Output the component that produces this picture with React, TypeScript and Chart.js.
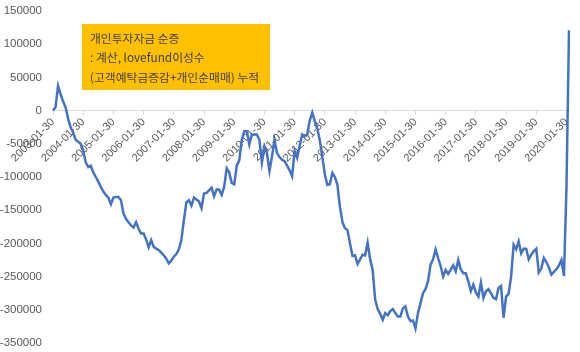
import React, { useEffect, useRef } from "react";
import { Chart, registerables } from "chart.js";

Chart.register(...registerables);

// Monthly cumulative values (one array per year, Jan..Dec)
const years = [2003, 2004, 2005, 2006, 2007, 2008, 2009, 2010, 2011, 2012, 2013, 2014, 2015, 2016, 2017, 2018, 2019, 2020];
const v2003 = [0, 5000, 37000, 25000, 14000, 5000, -12000, -25000, -33000, -44000, -47000, -50000];
const v2004 = [-60000, -78000, -85000, -83000, -93000, -100000, -107000, -115000, -122000, -127000, -131000, -141000];
const v2005 = [-131000, -130000, -130000, -135000, -155000, -163000, -168000, -173000, -176000, -168000, -178000, -185000];
const v2006 = [-185000, -194000, -206000, -195000, -205000, -208000, -210000, -214000, -218000, -223000, -230000, -226000];
const v2007 = [-220000, -216000, -209000, -195000, -165000, -138000, -135000, -143000, -131000, -134000, -137000, -147000];
const v2008 = [-125000, -124000, -120000, -116000, -129000, -119000, -119000, -127000, -115000, -87000, -93000, -109000];
const v2009 = [-111000, -83000, -75000, -44000, -31000, -31000, -51000, -36000, -36000, -36000, -44000, -78000];
const v2010 = [-54000, -64000, -91000, -69000, -44000, -64000, -70000, -74000, -76000, -83000, -90000, -99000];
const v2011 = [-61000, -71000, -53000, -36000, -39000, -36000, -15000, -3000, -16000, -27000, -45000, -70000];
const v2012 = [-96000, -112000, -111000, -94000, -100000, -112000, -145000, -168000, -177000, -180000, -200000, -219000];
const v2013 = [-218000, -231000, -224000, -217000, -218000, -199000, -224000, -240000, -285000, -299000, -306000, -315000];
const v2014 = [-305000, -308000, -302000, -299000, -305000, -310000, -310000, -298000, -295000, -310000, -317000, -316000];
const v2015 = [-328000, -305000, -290000, -275000, -269000, -257000, -232000, -224000, -209000, -222000, -234000, -250000];
const v2016 = [-240000, -246000, -240000, -233000, -242000, -225000, -239000, -245000, -245000, -257000, -272000, -262000];
const v2017 = [-274000, -280000, -259000, -282000, -272000, -269000, -275000, -282000, -284000, -267000, -264000, -312000];
const v2018 = [-280000, -276000, -250000, -202000, -209000, -197000, -215000, -208000, -208000, -224000, -217000, -212000];
const v2019 = [-208000, -244000, -238000, -222000, -228000, -236000, -247000, -243000, -239000, -233000, -225000, -249000];
const v2020 = [-115000, 121000];
const seriesByYear = [v2003, v2004, v2005, v2006, v2007, v2008, v2009, v2010, v2011, v2012, v2013, v2014, v2015, v2016, v2017, v2018, v2019, v2020];

const yMin = -350000;
const yMax = 150000;
const yStep = 50000;

const noteLines = ["개인투자자금 순증", ": 계산, lovefund이성수", "(고객예탁금증감+개인순매매) 누적"];

const labels: string[] = [];
const values: number[] = [];
years.forEach((y, k) => {
  seriesByYear[k].forEach((v, m) => {
    labels.push(`${y}-${String(m + 1).padStart(2, "0")}-30`);
    values.push(v);
  });
});

const notePlugin = {
  id: "noteBox",
  afterDraw(chart: any) {
    const ctx = chart.ctx;
    ctx.save();
    ctx.fillStyle = "#FFC000";
    ctx.fillRect(82, 24, 188, 66);
    ctx.fillStyle = "#404040";
    ctx.font = '11.8px "Noto Sans CJK KR", sans-serif';
    ctx.textBaseline = "middle";
    ctx.textAlign = "left";
    noteLines.forEach((t, k) => ctx.fillText(t, 90, 38.5 + k * 19.5));
    ctx.restore();
  },
};

export default function App() {
  const ref = useRef<HTMLCanvasElement>(null);
  useEffect(() => {
    if (!ref.current) return;
    const chart = new Chart(ref.current, {
      type: "line",
      data: {
        labels,
        datasets: [
          {
            data: values,
            borderColor: "#4472C4",
            borderWidth: 2.5,
            pointRadius: 0,
            tension: 0,
            fill: false,
          },
        ],
      },
      options: {
        responsive: false,
        animation: false,
        layout: { padding: { top: 11, bottom: 9, left: 0, right: 11 } },
        plugins: { legend: { display: false }, tooltip: { enabled: false } },
        scales: {
          x: {
            type: "category",
            position: { y: 0 } as any,
            offset: false,
            grid: {
              display: true,
              drawOnChartArea: false,
              drawTicks: true,
              tickLength: 4,
              color: "#D9D9D9",
            },
            border: { display: true, color: "#D9D9D9", width: 1 },
            ticks: {
              autoSkip: false,
              maxRotation: 45,
              minRotation: 45,
              padding: 1,
              color: "#595959",
              font: { family: '"Liberation Sans", sans-serif', size: 11 },
              callback: function (this: any, _v: any, i: number) {
                const l = labels[i];
                return l.slice(5, 7) === "01" ? l : null;
              },
            },
          },
          y: {
            min: yMin,
            max: yMax,
            afterFit(scale: any) {
              scale.width = 53;
            },
            grid: { display: false, drawTicks: true, tickLength: 11 },
            border: { display: false },
            ticks: {
              stepSize: yStep,
              padding: 0,
              color: "#595959",
              font: { family: '"Liberation Sans", sans-serif', size: 11.5 },
              callback: (v: any) => String(v),
            },
          },
        },
      },
      plugins: [notePlugin],
    });
    return () => chart.destroy();
  }, []);
  return (
    <div style={{ position: "fixed", left: 0, top: 0, width: 580, height: 352, background: "#fff" }}>
      <canvas ref={ref} width={580} height={352} style={{ display: "block" }} />
    </div>
  );
}
